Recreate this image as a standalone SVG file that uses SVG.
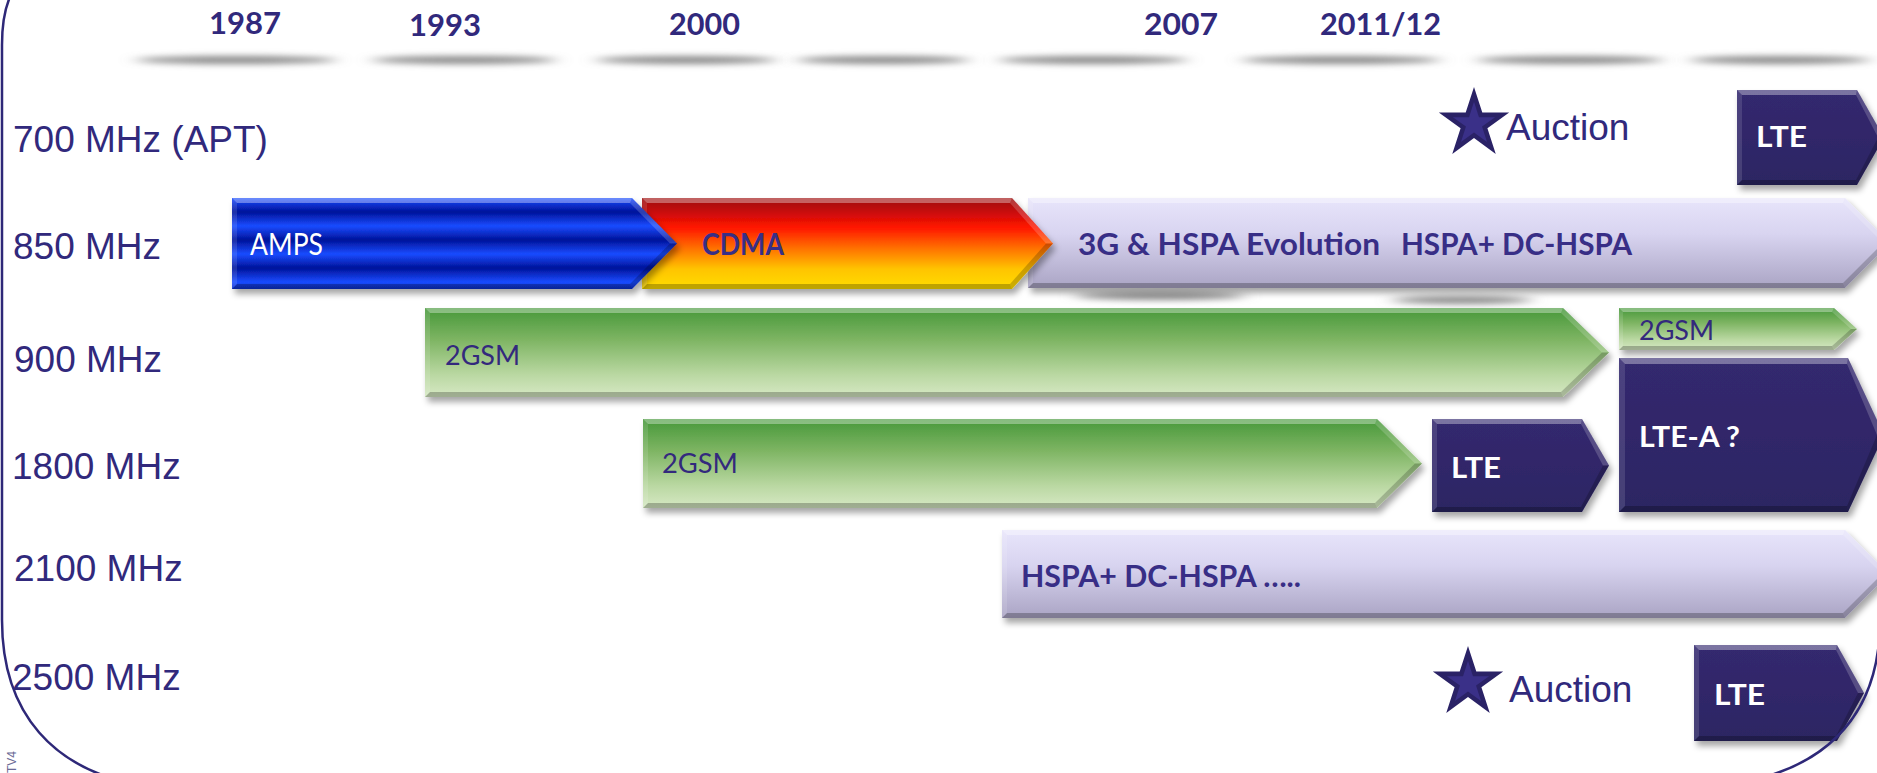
<svg xmlns="http://www.w3.org/2000/svg" width="1877" height="773" viewBox="0 0 1877 773">
<defs>
<style>
.row{font-family:"Liberation Sans",Arial,sans-serif;font-size:37px;fill:#31297c}
.yr{font-family:Lato,"Open Sans",sans-serif;font-weight:bold;font-size:31px;fill:#31297c}
.lb{font-family:Lato,"Open Sans",sans-serif;font-weight:bold;font-size:30px;fill:#382e86}
.lw{font-family:Lato,"Open Sans",sans-serif;font-weight:bold;font-size:28px;fill:#ffffff}
.gs{font-family:Lato,"Open Sans",sans-serif;font-size:27px;fill:#33297d}
.am{font-family:Lato,"Open Sans",sans-serif;font-size:30px;fill:#ffffff}
.ft{fill:#ffffff;fill-opacity:.35}
.fu{fill:#ffffff;fill-opacity:.18}
.fd{fill:#000000;fill-opacity:.2}
.fb{fill:#000000;fill-opacity:.25}
.fl{fill:#ffffff;fill-opacity:.12}
.sh{fill:#8a8a8a;filter:url(#blur)}
.navy{fill:url(#gNavy)}
.green{fill:url(#gGreen)}
.lav{fill:url(#gLav)}
</style>
<filter id="ds" x="-5%" y="-20%" width="110%" height="150%">
<feDropShadow dx="3" dy="5" stdDeviation="3" flood-color="#000" flood-opacity="0.35"/>
</filter>
<filter id="blur" x="-20%" y="-200%" width="140%" height="500%">
<feGaussianBlur stdDeviation="9 3"/>
</filter>
<linearGradient id="gBlue" gradientUnits="userSpaceOnUse" x1="0" y1="212" x2="0" y2="226" spreadMethod="reflect">
<stop offset="0" stop-color="#00129a"/>
<stop offset="1" stop-color="#1a4cff"/>
</linearGradient>
<linearGradient id="gCdma" x1="0" y1="0" x2="0" y2="1">
<stop offset="0" stop-color="#9c1010"/>
<stop offset="0.14" stop-color="#c40c0c"/>
<stop offset="0.32" stop-color="#ff1400"/>
<stop offset="0.55" stop-color="#ff7000"/>
<stop offset="0.78" stop-color="#ffc400"/>
<stop offset="1" stop-color="#ffdd00"/>
</linearGradient>
<linearGradient id="gLav" x1="0" y1="0" x2="0" y2="1">
<stop offset="0" stop-color="#e8e5fb"/>
<stop offset="0.4" stop-color="#d8d4f0"/>
<stop offset="1" stop-color="#aaa4c4"/>
</linearGradient>
<linearGradient id="gGreen" x1="0" y1="0" x2="0" y2="1">
<stop offset="0" stop-color="#46983a"/>
<stop offset="0.35" stop-color="#7db462"/>
<stop offset="0.75" stop-color="#bad8a2"/>
<stop offset="1" stop-color="#d6e8c4"/>
</linearGradient>
<linearGradient id="gNavy" x1="0" y1="0" x2="0" y2="1">
<stop offset="0" stop-color="#34296f"/>
<stop offset="1" stop-color="#2c2563"/>
</linearGradient>
<polygon id="star" points="0,-37 8.29,-11.41 35.19,-11.43 13.41,4.36 21.75,29.93 0,14.1 -21.75,29.93 -13.41,4.36 -35.19,-11.43 -8.29,-11.41"/>
<polygon id="starIn" points="0,-22.2 4.97,-6.85 21.11,-6.86 8.05,2.62 13.05,17.96 0,8.46 -13.05,17.96 -8.05,2.62 -21.11,-6.86 -4.97,-6.85"/>
</defs>

<rect x="0" y="0" width="1877" height="773" fill="#ffffff"/>

<g id="timeline-shadows">
<ellipse class="sh" cx="236" cy="60" rx="100" ry="4"/>
<ellipse class="sh" cx="464" cy="60" rx="92" ry="4"/>
<ellipse class="sh" cx="686" cy="60" rx="90" ry="4"/>
<ellipse class="sh" cx="883" cy="60" rx="86" ry="4"/>
<ellipse class="sh" cx="1093" cy="60" rx="94" ry="4"/>
<ellipse class="sh" cx="1341" cy="60" rx="99" ry="4"/>
<ellipse class="sh" cx="1570" cy="60" rx="93" ry="4"/>
<ellipse class="sh" cx="1780" cy="60" rx="90" ry="4"/>
</g>

<g id="years">
<text class="yr" x="209" y="34" textLength="72" lengthAdjust="spacingAndGlyphs">1987</text>
<text class="yr" x="409" y="36" textLength="72" lengthAdjust="spacingAndGlyphs">1993</text>
<text class="yr" x="669" y="35" textLength="71" lengthAdjust="spacingAndGlyphs">2000</text>
<text class="yr" x="1144" y="35" textLength="74" lengthAdjust="spacingAndGlyphs">2007</text>
<text class="yr" x="1320" y="35" textLength="121" lengthAdjust="spacingAndGlyphs">2011/12</text>
</g>

<g id="bands">
<text class="row" x="13" y="152">700 MHz (APT)</text>
<text class="row" x="13" y="259">850 MHz</text>
<text class="row" x="14" y="372">900 MHz</text>
<text class="row" x="12" y="479">1800 MHz</text>
<text class="row" x="14" y="581">2100 MHz</text>
<text class="row" x="12" y="690">2500 MHz</text>
</g>

<g id="bar-shadows">
<ellipse class="sh" cx="1160" cy="296" rx="85" ry="4"/>
<ellipse class="sh" cx="1462" cy="300" rx="70" ry="4"/>
</g>

<g id="node-3g">
<polygon class="lav" filter="url(#ds)" points="1028,198 1845,198 1890,243 1845,288 1028,288"/>
<polygon class="ft" points="1028,198 1845,198 1843,203 1033,203"/>
<polygon class="fu" points="1845,198 1890,243 1883,243 1843,203"/>
<polygon class="fd" points="1890,243 1845,288 1843,283 1883,243"/>
<polygon class="fb" points="1845,288 1028,288 1033,283 1843,283"/>
<polygon class="fl" points="1028,288 1028,198 1033,203 1033,283"/>
<text class="lb" y="255"><tspan x="1078" textLength="302" lengthAdjust="spacingAndGlyphs">3G &amp; HSPA Evolution</tspan><tspan x="1401" textLength="231" lengthAdjust="spacingAndGlyphs">HSPA+ DC-HSPA</tspan></text>
</g>

<g id="node-cdma">
<polygon fill="url(#gCdma)" filter="url(#ds)" points="642,198 1012,198 1053,243.5 1012,289 642,289"/>
<polygon class="ft" points="642,198 1012,198 1010,203 647,203"/>
<polygon class="fu" points="1012,198 1053,243.5 1046,243.5 1010,203"/>
<polygon class="fd" points="1053,243.5 1012,289 1010,284 1046,243.5"/>
<polygon class="fb" points="1012,289 642,289 647,284 1010,284"/>
<polygon class="fl" points="642,289 642,198 647,203 647,284"/>
<text class="lb" x="702" y="255" textLength="82" lengthAdjust="spacingAndGlyphs">CDMA</text>
</g>

<g id="node-amps">
<polygon fill="url(#gBlue)" filter="url(#ds)" points="232,198 632,198 677,243.5 632,289 232,289"/>
<polygon class="ft" points="232,198 632,198 630,203 237,203"/>
<polygon class="fu" points="632,198 677,243.5 670,243.5 630,203"/>
<polygon class="fd" points="677,243.5 632,289 630,284 670,243.5"/>
<polygon class="fb" points="632,289 232,289 237,284 630,284"/>
<polygon class="fl" points="232,289 232,198 237,203 237,284"/>
<text class="am" x="250" y="255" textLength="73" lengthAdjust="spacingAndGlyphs">AMPS</text>
</g>

<g id="node-lte-700">
<polygon class="navy" filter="url(#ds)" points="1737,90 1857,90 1884,137.5 1857,185 1737,185"/>
<polygon class="ft" points="1737,90 1857,90 1856,95 1742,95"/>
<polygon class="fu" points="1857,90 1884,137.5 1878,137.5 1856,95"/>
<polygon class="fd" points="1884,137.5 1857,185 1856,180 1878,137.5"/>
<polygon class="fb" points="1857,185 1737,185 1742,180 1856,180"/>
<polygon class="fl" points="1737,185 1737,90 1742,95 1742,180"/>
<text class="lw" x="1756" y="147" textLength="51" lengthAdjust="spacingAndGlyphs">LTE</text>
</g>

<g id="node-auction-700">
<use href="#star" x="1474" y="124" fill="#2a2266"/>
<use href="#starIn" x="1474" y="124" fill="#3a3088"/>
<text class="row" x="1506" y="140">Auction</text>
</g>

<g id="node-gsm-900">
<polygon class="green" filter="url(#ds)" points="425,308 1563,308 1609,352.5 1563,397 425,397"/>
<polygon class="ft" points="425,308 1563,308 1561,313 430,313"/>
<polygon class="fu" points="1563,308 1609,352.5 1602,352.5 1561,313"/>
<polygon class="fd" points="1609,352.5 1563,397 1561,392 1602,352.5"/>
<polygon class="fb" points="1563,397 425,397 430,392 1561,392"/>
<polygon class="fl" points="425,397 425,308 430,313 430,392"/>
<text class="gs" x="445" y="365" textLength="75" lengthAdjust="spacingAndGlyphs">2GSM</text>
</g>

<g id="node-gsm-900b">
<polygon class="green" filter="url(#ds)" points="1619,308 1834,308 1857,329 1834,350 1619,350"/>
<polygon class="ft" points="1619,308 1834,308 1832,312 1623,312"/>
<polygon class="fu" points="1834,308 1857,329 1851,329 1832,312"/>
<polygon class="fd" points="1857,329 1834,350 1832,346 1851,329"/>
<polygon class="fb" points="1834,350 1619,350 1623,346 1832,346"/>
<polygon class="fl" points="1619,350 1619,308 1623,312 1623,346"/>
<text class="gs" x="1639" y="340" textLength="75" lengthAdjust="spacingAndGlyphs">2GSM</text>
</g>

<g id="node-lte-a">
<polygon class="navy" filter="url(#ds)" points="1619,358 1848,358 1884,435 1848,512 1619,512"/>
<polygon class="ft" points="1619,358 1848,358 1847,364 1625,364"/>
<polygon class="fu" points="1848,358 1884,435 1877,435 1847,364"/>
<polygon class="fd" points="1884,435 1848,512 1847,506 1877,435"/>
<polygon class="fb" points="1848,512 1619,512 1625,506 1847,506"/>
<polygon class="fl" points="1619,512 1619,358 1625,364 1625,506"/>
<text class="lw" x="1639" y="447" textLength="101" lengthAdjust="spacingAndGlyphs">LTE-A ?</text>
</g>

<g id="node-gsm-1800">
<polygon class="green" filter="url(#ds)" points="643,419 1377,419 1422,463.5 1377,508 643,508"/>
<polygon class="ft" points="643,419 1377,419 1375,424 648,424"/>
<polygon class="fu" points="1377,419 1422,463.5 1415,463.5 1375,424"/>
<polygon class="fd" points="1422,463.5 1377,508 1375,503 1415,463.5"/>
<polygon class="fb" points="1377,508 643,508 648,503 1375,503"/>
<polygon class="fl" points="643,508 643,419 648,424 648,503"/>
<text class="gs" x="662" y="473" textLength="76" lengthAdjust="spacingAndGlyphs">2GSM</text>
</g>

<g id="node-lte-1800">
<polygon class="navy" filter="url(#ds)" points="1432,419 1582,419 1609,465.5 1582,512 1432,512"/>
<polygon class="ft" points="1432,419 1582,419 1581,424 1437,424"/>
<polygon class="fu" points="1582,419 1609,465.5 1603,465.5 1581,424"/>
<polygon class="fd" points="1609,465.5 1582,512 1581,507 1603,465.5"/>
<polygon class="fb" points="1582,512 1432,512 1437,507 1581,507"/>
<polygon class="fl" points="1432,512 1432,419 1437,424 1437,507"/>
<text class="lw" x="1451" y="478" textLength="50" lengthAdjust="spacingAndGlyphs">LTE</text>
</g>

<g id="node-hspa-2100">
<polygon class="lav" filter="url(#ds)" points="1002,530 1845,530 1889,574 1845,618 1002,618"/>
<polygon class="ft" points="1002,530 1845,530 1843,535 1007,535"/>
<polygon class="fu" points="1845,530 1889,574 1882,574 1843,535"/>
<polygon class="fd" points="1889,574 1845,618 1843,613 1882,574"/>
<polygon class="fb" points="1845,618 1002,618 1007,613 1843,613"/>
<polygon class="fl" points="1002,618 1002,530 1007,535 1007,613"/>
<text class="lb" x="1021" y="587" textLength="280" lengthAdjust="spacingAndGlyphs">HSPA+ DC-HSPA …..</text>
</g>

<g id="node-auction-2500">
<use href="#star" x="1468" y="683" fill="#2a2266"/>
<use href="#starIn" x="1468" y="683" fill="#3a3088"/>
<text class="row" x="1509" y="702">Auction</text>
</g>

<g id="node-lte-2500">
<polygon class="navy" filter="url(#ds)" points="1694,645 1837,645 1864,693 1837,741 1694,741"/>
<polygon class="ft" points="1694,645 1837,645 1836,650 1699,650"/>
<polygon class="fu" points="1837,645 1864,693 1858,693 1836,650"/>
<polygon class="fd" points="1864,693 1837,741 1836,736 1858,693"/>
<polygon class="fb" points="1837,741 1694,741 1699,736 1836,736"/>
<polygon class="fl" points="1694,741 1694,645 1699,650 1699,736"/>
<text class="lw" x="1714" y="705" textLength="51" lengthAdjust="spacingAndGlyphs">LTE</text>
</g>

<g id="connectors"></g>

<g id="frame">
<path d="M 10,-3 Q 2,15 2,45 L 2,620 C 2,715 55,770 140,785 L 1720,785 C 1820,775 1880,720 1880,620 L 1880,-5" fill="none" stroke="#2e2878" stroke-width="2.5"/>
<text transform="translate(16,773) rotate(-90)" font-family="Liberation Sans, Arial, sans-serif" font-size="12" fill="#6a6a96">TV4</text>
</g>
</svg>
